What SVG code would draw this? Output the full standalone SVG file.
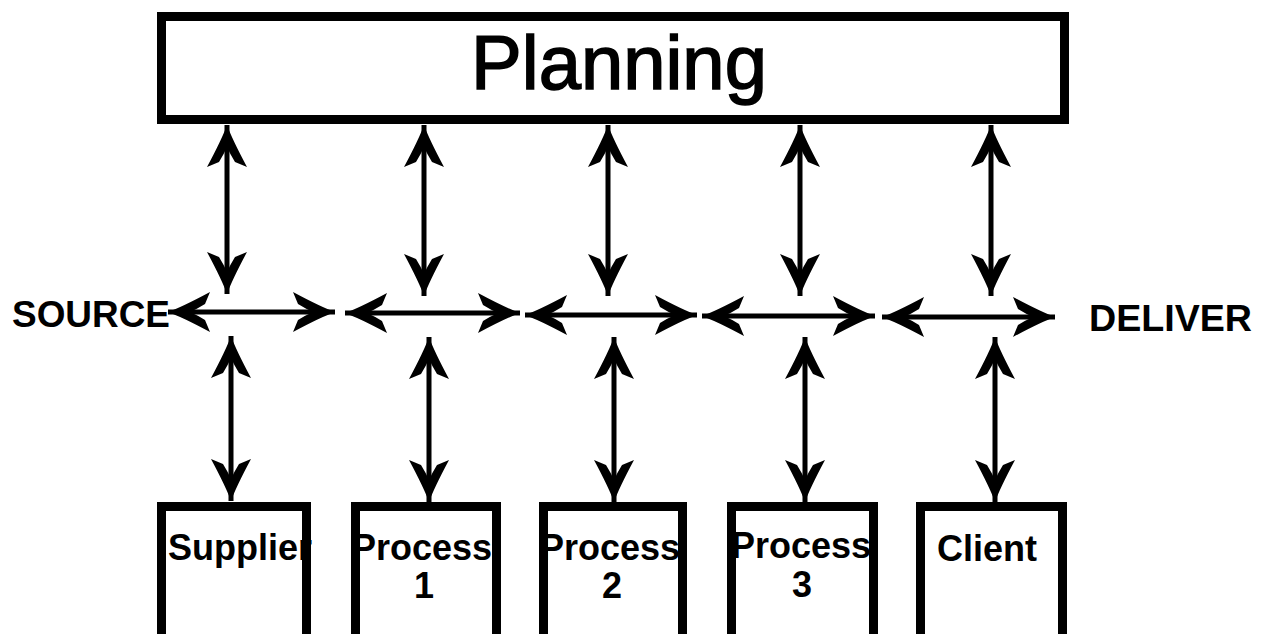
<svg xmlns="http://www.w3.org/2000/svg" width="1266" height="634" viewBox="0 0 1266 634">
  <style>
    .box { fill: #ffffff; stroke: #000000; stroke-width: 9; }
    .link { fill: none; stroke: #000000; stroke-width: 5; marker-start: url(#barb); marker-end: url(#barb); }
    .title { font-family: "Liberation Sans", Arial, sans-serif; font-size: 76px; fill: #000; stroke: #000; stroke-width: 1.6; text-anchor: middle; }
    .label { font-family: "Liberation Sans", Arial, sans-serif; font-size: 36px; font-weight: bold; fill: #000; text-anchor: middle; }
    .side { font-family: "Liberation Sans", Arial, sans-serif; font-size: 37px; font-weight: bold; fill: #000; }
  </style>
  <defs>
    <!-- swept, barbed arrowhead; tip at the origin, pointing along +x -->
    <marker id="barb" markerUnits="userSpaceOnUse" viewBox="-48 -26 52 52" markerWidth="52" markerHeight="52" refX="0" refY="0" orient="auto-start-reverse" overflow="visible">
      <path d="M0,0 Q-14,-5 -42,-20 L-37,-8 Q-29,-3 -22,0 Q-29,3 -37,8 L-42,20 Q-14,5 0,0 Z" fill="#000"/>
    </marker>
  </defs>

  <rect width="1266" height="634" fill="#ffffff"/>

  <g id="planning">
    <rect class="box" x="161.5" y="16.5" width="903" height="103"/>
    <text class="title" x="619" y="89">Planning</text>
  </g>

  <g id="source">
    <text class="side" x="12" y="327" textLength="158" lengthAdjust="spacingAndGlyphs">SOURCE</text>
  </g>

  <g id="deliver">
    <text class="side" x="1089" y="331" textLength="163" lengthAdjust="spacingAndGlyphs">DELIVER</text>
  </g>

  <g id="supplier">
    <rect class="box" x="161.5" y="506.5" width="145" height="200"/>
    <text class="label" x="240" y="560">Supplier</text>
  </g>

  <g id="process1">
    <rect class="box" x="355.5" y="506.5" width="141" height="200"/>
    <text class="label" x="422" y="560">Process</text>
    <text class="label" x="424" y="598">1</text>
  </g>

  <g id="process2">
    <rect class="box" x="543.5" y="506.5" width="139" height="200"/>
    <text class="label" x="610" y="560">Process</text>
    <text class="label" x="612" y="598">2</text>
  </g>

  <g id="process3">
    <rect class="box" x="731.5" y="506.5" width="142" height="200"/>
    <text class="label" x="801" y="558">Process</text>
    <text class="label" x="802" y="597">3</text>
  </g>

  <g id="client">
    <rect class="box" x="920.5" y="506.5" width="142" height="200"/>
    <text class="label" x="987" y="561">Client</text>
  </g>

  <g id="connectors">
    <!-- planning to the flow line -->
    <line class="link" x1="227" y1="125" x2="227" y2="294"/>
    <line class="link" x1="424" y1="125" x2="424" y2="296"/>
    <line class="link" x1="608" y1="125" x2="608" y2="296"/>
    <line class="link" x1="800" y1="125" x2="800" y2="296"/>
    <line class="link" x1="991" y1="125" x2="991" y2="296"/>
    <!-- flow line from source to deliver -->
    <line class="link" x1="168" y1="312" x2="335" y2="312"/>
    <line class="link" x1="345" y1="313" x2="520" y2="313"/>
    <line class="link" x1="525" y1="315" x2="697" y2="315"/>
    <line class="link" x1="702" y1="316" x2="875" y2="316"/>
    <line class="link" x1="882" y1="317" x2="1055" y2="317"/>
    <!-- flow line to the stations -->
    <line class="link" x1="231" y1="336" x2="231" y2="501"/>
    <line class="link" x1="429" y1="337" x2="429" y2="502"/>
    <line class="link" x1="614" y1="337" x2="614" y2="502"/>
    <line class="link" x1="805" y1="337" x2="805" y2="502"/>
    <line class="link" x1="995" y1="337" x2="995" y2="502"/>
  </g>
</svg>
